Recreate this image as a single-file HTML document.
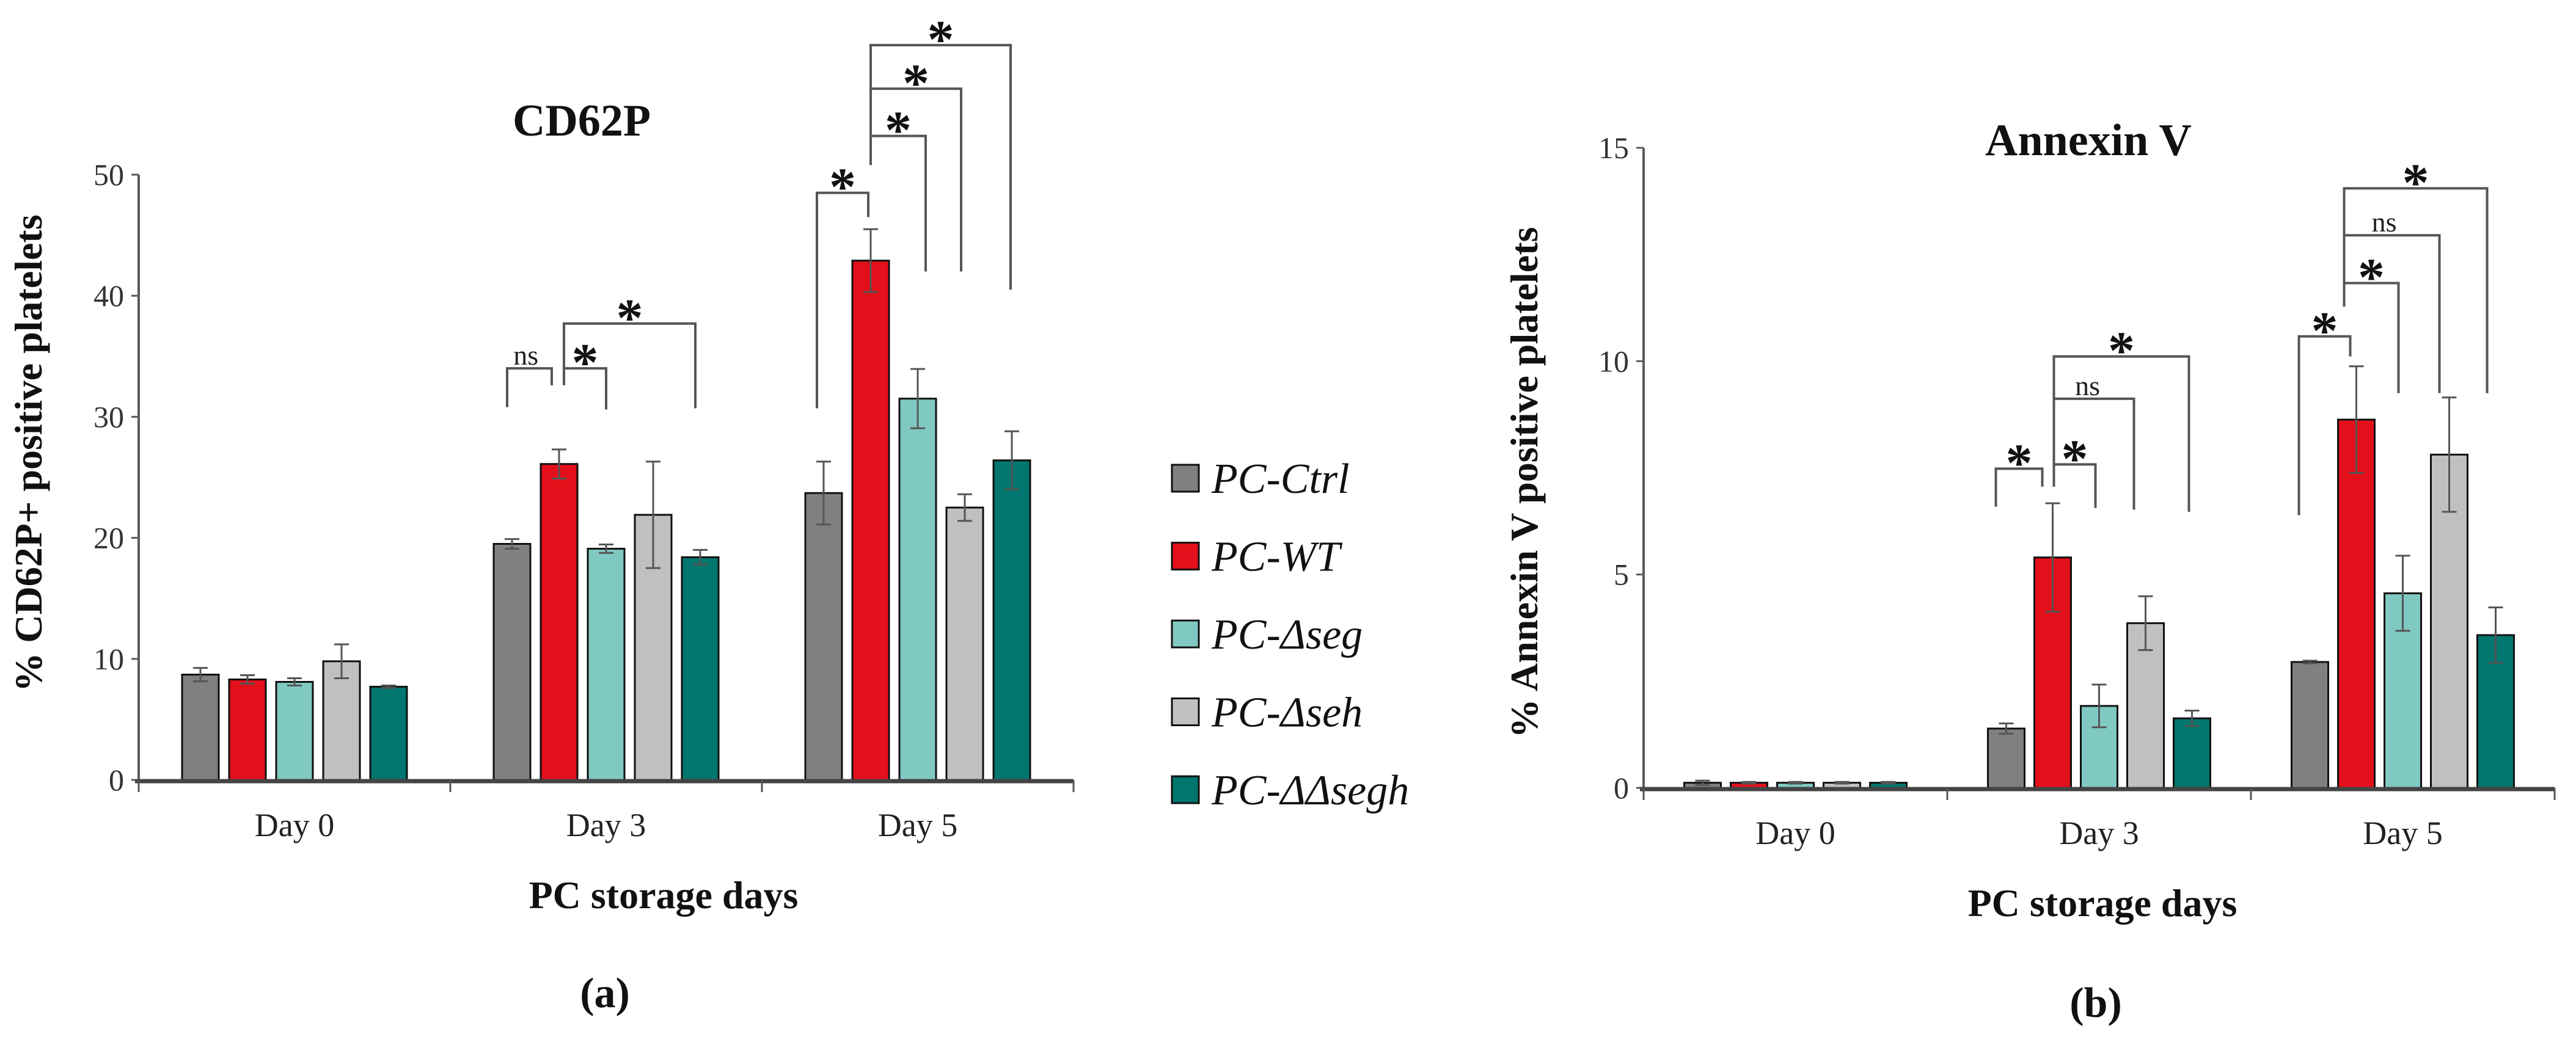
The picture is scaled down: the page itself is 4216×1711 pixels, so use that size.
<!DOCTYPE html>
<html><head><meta charset="utf-8"><style>
html,body{margin:0;padding:0;background:#fff;}
svg{display:block;font-family:"Liberation Serif",serif;}
</style></head><body>
<svg id="fig" width="4216" height="1711" viewBox="0 0 4216 1711" xmlns="http://www.w3.org/2000/svg"></svg>
<script>
const categories = ["Day 0","Day 3","Day 5"];
const seriesNames = ["PC-Ctrl","PC-WT","PC-\u0394seg","PC-\u0394seh","PC-\u0394\u0394segh"];
const seriesColors = ["#808080","#e30f1a","#7fc9c2","#c0c0c0","#00766e"];
// Chart A: CD62P
const cd62pCtrl = [8.7,19.5,23.7];
const cd62pWT   = [8.3,26.1,42.9];
const cd62pSeg  = [8.1,19.1,31.5];
const cd62pSeh  = [9.8,21.9,22.5];
const cd62pSegh = [7.7,18.4,26.4];
const cd62pErrCtrl = [0.55,0.4,2.6];
const cd62pErrWT   = [0.35,1.2,2.6];
const cd62pErrSeg  = [0.3,0.35,2.45];
const cd62pErrSeh  = [1.4,4.4,1.1];
const cd62pErrSegh = [0.1,0.6,2.4];
const cd62pTicks = [0,10,20,30,40,50];
// Chart B: Annexin V
const annCtrl = [0.12,1.39,2.95];
const annWT   = [0.12,5.4,8.63];
const annSeg  = [0.12,1.92,4.56];
const annSeh  = [0.12,3.86,7.81];
const annSegh = [0.12,1.63,3.58];
const annErrCtrl = [0.05,0.12,0.03];
const annErrWT   = [0.02,1.27,1.25];
const annErrSeg  = [0.02,0.5,0.88];
const annErrSeh  = [0.02,0.63,1.34];
const annErrSegh = [0.02,0.18,0.65];
const annTicks = [0,5,10,15];
// significance brackets: [group, leftBar, rightBar, top, leftBottom, rightBottom, label]
const cd62pSig = [
 [1,0,1,34.0,30.8,32.6,"ns"],[1,1,2,34.0,32.6,30.6,"*"],[1,1,4,37.7,34.0,30.7,"*"],
 [2,0,1,48.5,30.7,46.5,"*"],[2,1,2,53.2,50.8,42.0,"*"],[2,1,3,57.1,50.8,42.0,"*"],[2,1,4,60.7,50.8,40.5,"*"]];
const annSig = [
 [1,0,1,7.48,6.59,7.06,"*"],[1,1,2,7.58,7.06,6.56,"*"],[1,1,3,9.12,7.06,6.52,"ns"],[1,1,4,10.11,7.06,6.47,"*"],
 [2,0,1,10.58,6.39,10.11,"*"],[2,1,2,11.83,11.28,9.25,"*"],[2,1,3,12.95,11.28,9.25,"ns"],[2,1,4,14.05,11.28,9.25,"*"]];
</script>
<script>
const NS="http://www.w3.org/2000/svg";
const svg=document.getElementById('fig');
function mk(tag,attrs,parent){const e=document.createElementNS(NS,tag);for(const k in attrs)e.setAttribute(k,attrs[k]);(parent||svg).appendChild(e);return e;}
function txt(s,attrs,parent){const e=mk('text',attrs,parent);e.textContent=s;return e;}

function drawChart(cfg){
 const g=mk('g',{});
 
 
 const yS=v=>cfg.y0-(v-cfg.ymin)/(cfg.ymax-cfg.ymin)*(cfg.y0-cfg.yTop);
 const gc=k=>cfg.ax+(k+0.5)*cfg.gw;
 const bx=(k,i)=>gc(k)+(i-2)*cfg.pitch;
 const ya=mk('line',{x1:cfg.ax,y1:cfg.yTop,x2:cfg.ax,y2:cfg.y0,stroke:'#5a5a5a','stroke-width':4},g);
 
 
 cfg.ticks.forEach(t=>{
  const y=yS(t);
  mk('line',{x1:cfg.ax-12,y1:y,x2:cfg.ax,y2:y,stroke:'#5a5a5a','stroke-width':3},g);
  const tl=txt(String(t),{x:cfg.ax-24,y:y+17,'text-anchor':'end','font-size':50,fill:'#333'},g);
  
  
 });
 cfg.series.forEach((vals,i)=>{
  vals.forEach((v,k)=>{
   const x=bx(k,i)-cfg.bw/2, y=yS(v);
   const r=mk('rect',{x:x,y:y,width:cfg.bw,height:cfg.y0-y,fill:seriesColors[i],stroke:'#111','stroke-width':3},g);
   
   
   const e=cfg.errs[i][k], cx=bx(k,i);
   const eg=mk('g',{stroke:'#555','stroke-width':3},g);
   
   
   mk('line',{x1:cx,y1:yS(v+e),x2:cx,y2:yS(v-e)},eg);
   mk('line',{x1:cx-12,y1:yS(v+e),x2:cx+12,y2:yS(v+e)},eg);
   mk('line',{x1:cx-12,y1:yS(v-e),x2:cx+12,y2:yS(v-e)},eg);
  });
 });
 const xa=mk('line',{x1:cfg.ax-6,y1:cfg.y0+2,x2:cfg.ax+3*cfg.gw,y2:cfg.y0+2,stroke:'#444','stroke-width':7},g);
 
 
 for(let k=0;k<=3;k++){const x=cfg.ax+k*cfg.gw;mk('line',{x1:x,y1:cfg.y0,x2:x,y2:cfg.y0+20,stroke:'#555','stroke-width':3},g);}
 categories.forEach((c,k)=>{
  const t=txt(c,{x:gc(k),y:cfg.y0+92,'text-anchor':'middle','font-size':54,fill:'#222'},g);
  
  
 });
 cfg.sig.forEach(s=>{
  const [k,a,b,top,lb,rb,lab]=s;
  const x1=bx(k,a)+cfg.off(k,a,b,0), x2=bx(k,b)+cfg.off(k,a,b,1);
  const bg=mk('g',{},g);
  
  
  mk('polyline',{points:`${x1},${yS(lb)} ${x1},${yS(top)} ${x2},${yS(top)} ${x2},${yS(rb)}`,fill:'none',stroke:'#555','stroke-width':4},bg);
  const mx=(x1+x2)/2;
  if(lab==='*') txt('*',{x:mx,y:yS(top)+20,'text-anchor':'middle','font-size':88,'font-weight':'bold',fill:'#111'},bg);
  else txt('ns',{x:x1+(x2-x1)*0.42,y:yS(top)-6,'text-anchor':'middle','font-size':46,fill:'#222'},bg);
 });
 const tt=txt(cfg.title,{x:cfg.titleX,y:cfg.titleY,'text-anchor':'middle','font-size':74,'font-weight':'bold',fill:'#111'},g);
 
 
 const yt=txt(cfg.ytitle,{x:0,y:0,'text-anchor':'middle','font-size':64,'font-weight':'bold',fill:'#111',transform:`translate(${cfg.ytX},${cfg.ytY}) rotate(-90)`},g);
 
 
 const xt=txt('PC storage days',{x:cfg.xtX,y:cfg.xtY,'text-anchor':'middle','font-size':64,'font-weight':'bold',fill:'#111'},g);
 
 
 const pl=txt(cfg.panel,{x:cfg.plX,y:cfg.plY,'text-anchor':'middle','font-size':70,'font-weight':'bold',fill:'#111'},g);
 
 
}

const offA={"1-0-1":[-8,-12],"1-1-2":[8,0],"1-1-4":[8,-8],"2-0-1":[-11,-4],"2-1-2":[0,13],"2-1-3":[0,-6],"2-1-4":[0,-2]};
const offB={"1-0-1":[-17,-17],"1-1-2":[2,-6],"1-1-3":[2,-19],"1-1-4":[2,-5],"2-0-1":[-18,-10],"2-1-2":[-20,-7],"2-1-3":[-20,-16],"2-1-4":[-20,-14]};

drawChart({name:'chart-cd62p',ax:227,gw:510,pitch:77,bw:60,y0:1277,yTop:286,ymin:0,ymax:50,ticks:cd62pTicks,
 series:[cd62pCtrl,cd62pWT,cd62pSeg,cd62pSeh,cd62pSegh],
 errs:[cd62pErrCtrl,cd62pErrWT,cd62pErrSeg,cd62pErrSeh,cd62pErrSegh],
 sig:cd62pSig,off:(k,a,b,j)=>offA[k+'-'+a+'-'+b][j],
 title:'CD62P',titleX:952,titleY:222,ytitle:'% CD62P+ positive platelets',ytX:68,ytY:742,
 xtX:1086,xtY:1487,panel:'(a)',plX:990,plY:1649});

drawChart({name:'chart-annexin-v',ax:2690,gw:497,pitch:76,bw:60,y0:1290,yTop:242,ymin:0,ymax:15,ticks:annTicks,
 series:[annCtrl,annWT,annSeg,annSeh,annSegh],
 errs:[annErrCtrl,annErrWT,annErrSeg,annErrSeh,annErrSegh],
 sig:annSig,off:(k,a,b,j)=>offB[k+'-'+a+'-'+b][j],
 title:'Annexin V',titleX:3418,titleY:254,ytitle:'% Annexin V positive platelets',ytX:2516,ytY:790,
 xtX:3441,xtY:1500,panel:'(b)',plX:3430,plY:1665});

const lg=mk('g',{});


seriesNames.forEach((n,i)=>{
 const y=783+i*127.5;
 const e=mk('g',{},lg);
 
 
 mk('rect',{x:1918,y:y-22,width:44,height:44,fill:seriesColors[i],stroke:'#111','stroke-width':3},e);
 txt(n,{x:1983,y:y+24,'font-size':70,'font-style':'italic',fill:'#111'},e);
});
</script>
</body></html>
